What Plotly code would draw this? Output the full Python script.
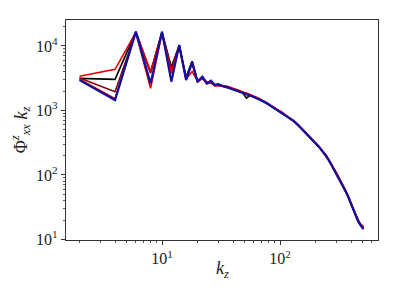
import plotly.graph_objects as go

# wavenumbers k_z (even integers, sampled)
kz = [2, 4, 6, 8, 10, 12, 14, 16, 18, 20, 22, 24, 26, 28, 30, 32, 34, 36, 40, 44,
      48, 52, 56, 60, 66, 72, 78, 84, 90, 96, 104, 112, 120, 130, 140, 150, 160, 170,
      180, 190, 200, 215, 230, 245, 260, 275, 290, 305, 320, 340, 360, 380, 400, 420,
      440, 460, 480, 500, 510]

black = [3150, 3040, 16600, 3900, 16500, 4700, 10300, 3300, 5800, 2800, 3300, 2650,
         2900, 2480, 2560, 2400, 2330, 2300, 2120, 1990, 1900, 1560, 1730, 1610, 1500,
         1390, 1270, 1170, 1080, 995, 915, 830, 760, 690, 610, 535, 480, 425, 380, 345,
         315, 270, 230, 200, 168, 140, 118, 100, 85, 68, 56, 45, 35, 28, 23, 19, 16.8,
         15.2, 14.6]

darkred = [3200, 1950, 16400, 3800, 16300, 4300, 10100, 3200, 5600, 2850, 3250, 2700,
           2850, 2520, 2540, 2420, 2350, 2280, 2140, 2000, 1890, 1810, 1740, 1620, 1490,
           1395, 1285, 1165, 1085, 1000, 920, 835, 755, 695, 605, 540, 475, 428, 378, 348,
           312, 272, 228, 202, 166, 141, 117, 101, 84, 69, 55, 45.5, 35, 28.5, 23, 19.2,
           17, 15.5, 14.8]

red_lo = [3050, 1520, 16000, 2200, 15800, 3750, 9600, 3000, 5300, 2750, 3150, 2600,
          2750, 2400, 2450, 2380, 2300, 2250, 2180, 2080, 1920, 1860, 1750, 1660, 1520,
          1420, 1300, 1200, 1090, 1020, 930, 850, 770, 705, 620, 550, 485, 436, 385, 354,
          318, 277, 232, 206, 170, 144, 120, 103, 86, 70, 57, 46, 36, 29, 23.5, 19.5,
          17.3, 16, 15.5]

red_hi = [3400, 4350, 16200, 4000, 16000, 3800, 9800, 3100, 4000, 2900, 3100, 2750,
          2650, 2450, 2420, 2450, 2420, 2380, 2220, 2060, 1960, 1850, 1780, 1660, 1545,
          1410, 1310, 1190, 1105, 1015, 945, 845, 780, 700, 628, 548, 492, 434, 390, 352,
          322, 277, 236, 205, 173, 144, 122, 103, 88, 70, 58, 46.5, 36.5, 29, 24, 19.8,
          17.5, 16.3, 15.8]

blue = [2960, 1450, 16700, 2630, 16700, 2800, 10400, 2960, 5700, 2790, 3330, 2630,
        2900, 2480, 2540, 2400, 2340, 2280, 2130, 2000, 1900, 1820, 1730, 1620, 1500,
        1390, 1280, 1170, 1080, 1000, 920, 830, 760, 690, 610, 535, 480, 425, 380, 345,
        315, 270, 230, 200, 168, 140, 118, 100, 85, 68, 56, 45, 35, 28, 23, 19, 16.8,
        15.2, 14.5]

x_ticks = [10, 100]
x_ticktext = ["10<sup>1</sup>", "10<sup>2</sup>"]
y_ticks = [10, 100, 1000, 10000]
y_ticktext = ["10<sup>1</sup>", "10<sup>2</sup>", "10<sup>3</sup>", "10<sup>4</sup>"]

series = [
    ("black", black, "black", 1.6),
    ("darkred", darkred, "#7a0a0a", 1.6),
    ("red_lo", red_lo, "#e00000", 1.6),
    ("red_hi", red_hi, "#e00000", 1.6),
    ("blue", blue, "#1010a0", 2.2),
]

fig = go.Figure()
for name, vals, color, width in series:
    fig.add_trace(go.Scatter(x=kz, y=vals, mode="lines", name=name,
                             line=dict(color=color, width=width)))


def minor_vals(lo, hi):
    out = []
    for e in range(lo, hi):
        out += [m * 10 ** e for m in range(2, 10)]
    return out


font = dict(family="Liberation Serif, DejaVu Serif, serif", size=16, color="#222")
title_font = dict(family="Liberation Serif, DejaVu Serif, serif", size=18, color="#222")
axis = dict(type="log", showgrid=False, zeroline=False, showline=True, linecolor="#333",
            linewidth=1.2, mirror=True, ticks="outside", ticklen=4, tickcolor="#333",
            tickfont=font, automargin=False)

# page body has an 8px default margin, so the figure is a bit smaller than the window
fig.update_layout(
    width=391, height=291,
    margin=dict(l=58, r=21, t=12, b=59, autoexpand=False),
    paper_bgcolor="white", plot_bgcolor="white",
    showlegend=False,
    font=font,
)
fig.update_xaxes(**axis, range=[0.1864, 2.8305], tickmode="array",
                 tickvals=x_ticks, ticktext=x_ticktext,
                 minor=dict(tickmode="array", tickvals=minor_vals(0, 3), ticks="outside",
                            ticklen=2, tickcolor="#555"))
fig.update_yaxes(**axis, range=[0.992, 4.403], tickmode="array",
                 tickvals=y_ticks, ticktext=y_ticktext,
                 minor=dict(tickmode="array", tickvals=minor_vals(1, 5), ticks="outside",
                            ticklen=2, tickcolor="#555"),
                 title=dict(text="Φ<sup><i>z</i></sup><sub><i>xx</i></sub> <i>k</i><sub><i>z</i></sub>",
                            font=title_font, standoff=4))
fig.add_annotation(text="<i>k</i><sub><i>z</i></sub>", xref="paper", yref="paper",
                   x=0.5, y=0, yshift=-29, yanchor="middle", showarrow=False,
                   font=title_font)

fig.write_html("out.html")
